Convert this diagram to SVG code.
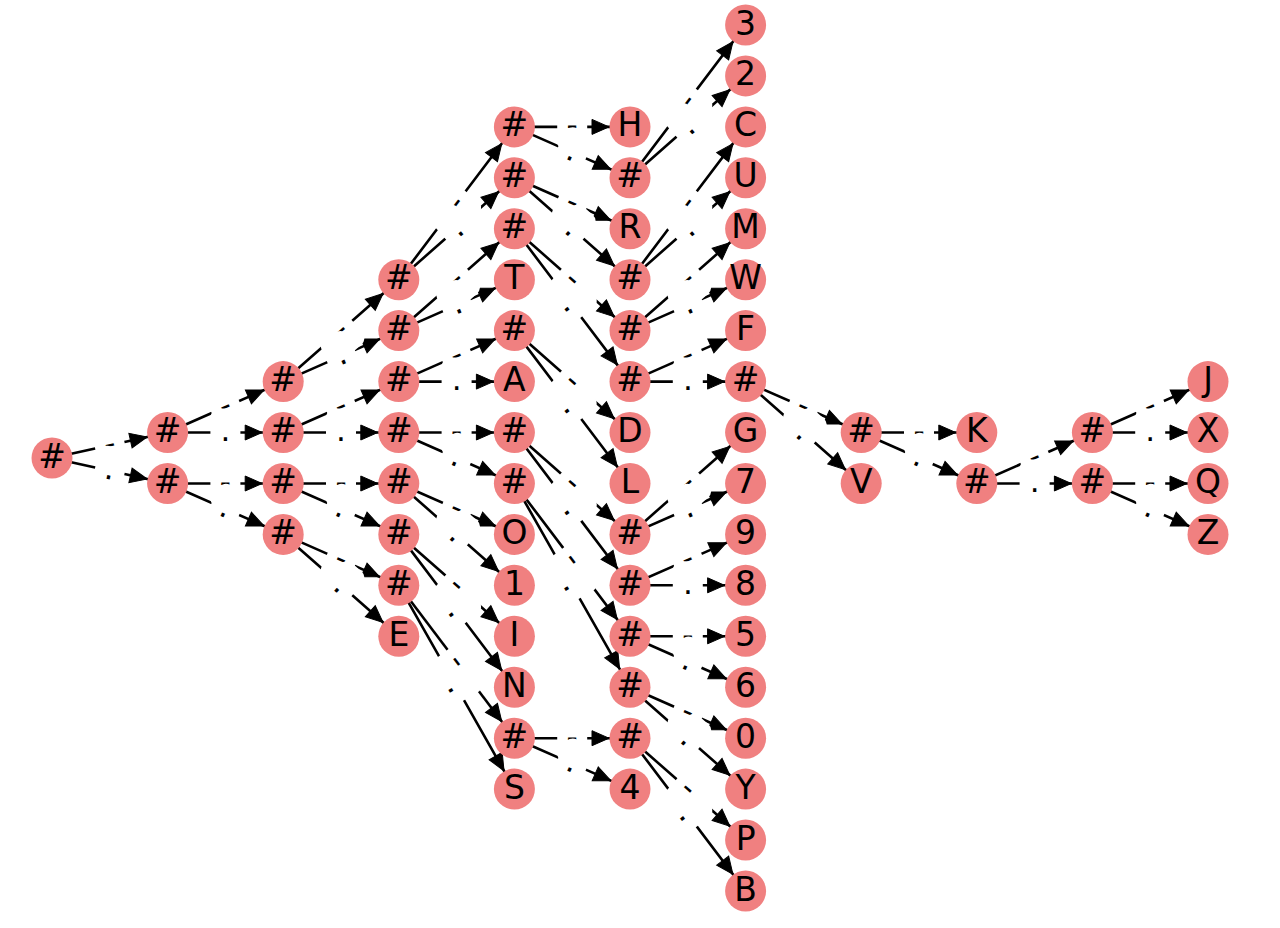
<svg xmlns="http://www.w3.org/2000/svg" width="1280" height="928" viewBox="0 0 1280 928">
<style>
.edge{fill:none;stroke:#000;stroke-width:2.6;marker-end:url(#arrow)}
.lab{fill:none;stroke:none}
.dash{marker-mid:url(#mdash)}
.dot{marker-mid:url(#mdot)}
.node circle{fill:#F08080}
.node text{font-family:"DejaVu Sans",sans-serif;font-size:33px;text-anchor:middle;fill:#000}
.lt{font-family:"DejaVu Sans",sans-serif;font-size:31px;text-anchor:middle;fill:#000}
.lb{fill:#fff}
</style>
<defs>
<marker id="arrow" markerUnits="userSpaceOnUse" orient="auto" refX="0" refY="0" markerWidth="1" markerHeight="1" overflow="visible">
<path d="M-21,0 L-38,-7.5 L-38,7.5 Z" fill="#000" stroke="#000" stroke-width="1"/>
</marker>
<marker id="mdash" markerUnits="userSpaceOnUse" orient="auto" refX="0" refY="0" markerWidth="1" markerHeight="1" overflow="visible">
<rect class="lb" x="-15" y="-24" width="30" height="48" rx="9"/>
<text class="lt" x="0" y="8.5">-</text>
</marker>
<marker id="mdot" markerUnits="userSpaceOnUse" orient="auto" refX="0" refY="0" markerWidth="1" markerHeight="1" overflow="visible">
<rect class="lb" x="-15" y="-24" width="30" height="48" rx="9"/>
<text class="lt" x="0" y="8.5">.</text>
</marker>
</defs>
<rect width="1280" height="928" fill="#fff"/>
<g id="connectors">
<path class="edge" d="M52 458 L109.8 445.25 L167.6 432.5"/>
<path class="edge" d="M52 458 L109.8 470.75 L167.6 483.5"/>
<path class="edge" d="M167.6 432.5 L225.4 407.05 L283.2 381.6"/>
<path class="edge" d="M167.6 432.5 L225.4 432.5 L283.2 432.5"/>
<path class="edge" d="M167.6 483.5 L225.4 483.5 L283.2 483.5"/>
<path class="edge" d="M167.6 483.5 L225.4 508.95 L283.2 534.4"/>
<path class="edge" d="M283.2 381.6 L341 330.65 L398.8 279.7"/>
<path class="edge" d="M283.2 381.6 L341 356.1 L398.8 330.6"/>
<path class="edge" d="M283.2 432.5 L341 407.05 L398.8 381.6"/>
<path class="edge" d="M283.2 432.5 L341 432.5 L398.8 432.5"/>
<path class="edge" d="M283.2 483.5 L341 483.5 L398.8 483.5"/>
<path class="edge" d="M283.2 483.5 L341 508.95 L398.8 534.4"/>
<path class="edge" d="M283.2 534.4 L341 559.85 L398.8 585.3"/>
<path class="edge" d="M283.2 534.4 L341 585.35 L398.8 636.3"/>
<path class="edge" d="M398.8 279.7 L456.6 203.3 L514.4 126.9"/>
<path class="edge" d="M398.8 279.7 L456.6 228.75 L514.4 177.8"/>
<path class="edge" d="M398.8 330.6 L456.6 279.7 L514.4 228.8"/>
<path class="edge" d="M398.8 330.6 L456.6 305.15 L514.4 279.7"/>
<path class="edge" d="M398.8 381.6 L456.6 356.1 L514.4 330.6"/>
<path class="edge" d="M398.8 381.6 L456.6 381.6 L514.4 381.6"/>
<path class="edge" d="M398.8 432.5 L456.6 432.5 L514.4 432.5"/>
<path class="edge" d="M398.8 432.5 L456.6 458 L514.4 483.5"/>
<path class="edge" d="M398.8 483.5 L456.6 508.95 L514.4 534.4"/>
<path class="edge" d="M398.8 483.5 L456.6 534.4 L514.4 585.3"/>
<path class="edge" d="M398.8 534.4 L456.6 585.35 L514.4 636.3"/>
<path class="edge" d="M398.8 534.4 L456.6 610.8 L514.4 687.2"/>
<path class="edge" d="M398.8 585.3 L456.6 661.75 L514.4 738.2"/>
<path class="edge" d="M398.8 585.3 L456.6 687.2 L514.4 789.1"/>
<path class="edge" d="M514.4 126.9 L572.2 126.9 L630 126.9"/>
<path class="edge" d="M514.4 126.9 L572.2 152.35 L630 177.8"/>
<path class="edge" d="M514.4 177.8 L572.2 203.3 L630 228.8"/>
<path class="edge" d="M514.4 177.8 L572.2 228.75 L630 279.7"/>
<path class="edge" d="M514.4 228.8 L572.2 279.7 L630 330.6"/>
<path class="edge" d="M514.4 228.8 L572.2 305.2 L630 381.6"/>
<path class="edge" d="M514.4 330.6 L572.2 381.55 L630 432.5"/>
<path class="edge" d="M514.4 330.6 L572.2 407.05 L630 483.5"/>
<path class="edge" d="M514.4 432.5 L572.2 483.45 L630 534.4"/>
<path class="edge" d="M514.4 432.5 L572.2 508.9 L630 585.3"/>
<path class="edge" d="M514.4 483.5 L572.2 559.9 L630 636.3"/>
<path class="edge" d="M514.4 483.5 L572.2 585.35 L630 687.2"/>
<path class="edge" d="M514.4 738.2 L572.2 738.2 L630 738.2"/>
<path class="edge" d="M514.4 738.2 L572.2 763.65 L630 789.1"/>
<path class="edge" d="M630 177.8 L687.8 101.4 L745.6 25"/>
<path class="edge" d="M630 177.8 L687.8 126.85 L745.6 75.9"/>
<path class="edge" d="M630 279.7 L687.8 203.3 L745.6 126.9"/>
<path class="edge" d="M630 279.7 L687.8 228.75 L745.6 177.8"/>
<path class="edge" d="M630 330.6 L687.8 279.7 L745.6 228.8"/>
<path class="edge" d="M630 330.6 L687.8 305.15 L745.6 279.7"/>
<path class="edge" d="M630 381.6 L687.8 356.1 L745.6 330.6"/>
<path class="edge" d="M630 381.6 L687.8 381.6 L745.6 381.6"/>
<path class="edge" d="M630 534.4 L687.8 483.45 L745.6 432.5"/>
<path class="edge" d="M630 534.4 L687.8 508.95 L745.6 483.5"/>
<path class="edge" d="M630 585.3 L687.8 559.85 L745.6 534.4"/>
<path class="edge" d="M630 585.3 L687.8 585.3 L745.6 585.3"/>
<path class="edge" d="M630 636.3 L687.8 636.3 L745.6 636.3"/>
<path class="edge" d="M630 636.3 L687.8 661.75 L745.6 687.2"/>
<path class="edge" d="M630 687.2 L687.8 712.7 L745.6 738.2"/>
<path class="edge" d="M630 687.2 L687.8 738.15 L745.6 789.1"/>
<path class="edge" d="M630 738.2 L687.8 789.1 L745.6 840"/>
<path class="edge" d="M630 738.2 L687.8 814.6 L745.6 891"/>
<path class="edge" d="M745.6 381.6 L803.4 407.05 L861.2 432.5"/>
<path class="edge" d="M745.6 381.6 L803.4 432.55 L861.2 483.5"/>
<path class="edge" d="M861.2 432.5 L919 432.5 L976.8 432.5"/>
<path class="edge" d="M861.2 432.5 L919 458 L976.8 483.5"/>
<path class="edge" d="M976.8 483.5 L1034.6 458 L1092.4 432.5"/>
<path class="edge" d="M976.8 483.5 L1034.6 483.5 L1092.4 483.5"/>
<path class="edge" d="M1092.4 432.5 L1150.2 407.05 L1208 381.6"/>
<path class="edge" d="M1092.4 432.5 L1150.2 432.5 L1208 432.5"/>
<path class="edge" d="M1092.4 483.5 L1150.2 483.5 L1208 483.5"/>
<path class="edge" d="M1092.4 483.5 L1150.2 508.95 L1208 534.4"/>
</g>
<g id="edge-labels">
<path class="lab dash" d="M52 458 L109.8 445.25 L167.6 432.5"/>
<path class="lab dot" d="M52 458 L109.8 470.75 L167.6 483.5"/>
<path class="lab dash" d="M167.6 432.5 L225.4 407.05 L283.2 381.6"/>
<path class="lab dot" d="M167.6 432.5 L225.4 432.5 L283.2 432.5"/>
<path class="lab dash" d="M167.6 483.5 L225.4 483.5 L283.2 483.5"/>
<path class="lab dot" d="M167.6 483.5 L225.4 508.95 L283.2 534.4"/>
<path class="lab dash" d="M283.2 381.6 L341 330.65 L398.8 279.7"/>
<path class="lab dot" d="M283.2 381.6 L341 356.1 L398.8 330.6"/>
<path class="lab dash" d="M283.2 432.5 L341 407.05 L398.8 381.6"/>
<path class="lab dot" d="M283.2 432.5 L341 432.5 L398.8 432.5"/>
<path class="lab dash" d="M283.2 483.5 L341 483.5 L398.8 483.5"/>
<path class="lab dot" d="M283.2 483.5 L341 508.95 L398.8 534.4"/>
<path class="lab dash" d="M283.2 534.4 L341 559.85 L398.8 585.3"/>
<path class="lab dot" d="M283.2 534.4 L341 585.35 L398.8 636.3"/>
<path class="lab dash" d="M398.8 279.7 L456.6 203.3 L514.4 126.9"/>
<path class="lab dot" d="M398.8 279.7 L456.6 228.75 L514.4 177.8"/>
<path class="lab dash" d="M398.8 330.6 L456.6 279.7 L514.4 228.8"/>
<path class="lab dot" d="M398.8 330.6 L456.6 305.15 L514.4 279.7"/>
<path class="lab dash" d="M398.8 381.6 L456.6 356.1 L514.4 330.6"/>
<path class="lab dot" d="M398.8 381.6 L456.6 381.6 L514.4 381.6"/>
<path class="lab dash" d="M398.8 432.5 L456.6 432.5 L514.4 432.5"/>
<path class="lab dot" d="M398.8 432.5 L456.6 458 L514.4 483.5"/>
<path class="lab dash" d="M398.8 483.5 L456.6 508.95 L514.4 534.4"/>
<path class="lab dot" d="M398.8 483.5 L456.6 534.4 L514.4 585.3"/>
<path class="lab dash" d="M398.8 534.4 L456.6 585.35 L514.4 636.3"/>
<path class="lab dot" d="M398.8 534.4 L456.6 610.8 L514.4 687.2"/>
<path class="lab dash" d="M398.8 585.3 L456.6 661.75 L514.4 738.2"/>
<path class="lab dot" d="M398.8 585.3 L456.6 687.2 L514.4 789.1"/>
<path class="lab dash" d="M514.4 126.9 L572.2 126.9 L630 126.9"/>
<path class="lab dot" d="M514.4 126.9 L572.2 152.35 L630 177.8"/>
<path class="lab dash" d="M514.4 177.8 L572.2 203.3 L630 228.8"/>
<path class="lab dot" d="M514.4 177.8 L572.2 228.75 L630 279.7"/>
<path class="lab dash" d="M514.4 228.8 L572.2 279.7 L630 330.6"/>
<path class="lab dot" d="M514.4 228.8 L572.2 305.2 L630 381.6"/>
<path class="lab dash" d="M514.4 330.6 L572.2 381.55 L630 432.5"/>
<path class="lab dot" d="M514.4 330.6 L572.2 407.05 L630 483.5"/>
<path class="lab dash" d="M514.4 432.5 L572.2 483.45 L630 534.4"/>
<path class="lab dot" d="M514.4 432.5 L572.2 508.9 L630 585.3"/>
<path class="lab dash" d="M514.4 483.5 L572.2 559.9 L630 636.3"/>
<path class="lab dot" d="M514.4 483.5 L572.2 585.35 L630 687.2"/>
<path class="lab dash" d="M514.4 738.2 L572.2 738.2 L630 738.2"/>
<path class="lab dot" d="M514.4 738.2 L572.2 763.65 L630 789.1"/>
<path class="lab dash" d="M630 177.8 L687.8 101.4 L745.6 25"/>
<path class="lab dot" d="M630 177.8 L687.8 126.85 L745.6 75.9"/>
<path class="lab dash" d="M630 279.7 L687.8 203.3 L745.6 126.9"/>
<path class="lab dot" d="M630 279.7 L687.8 228.75 L745.6 177.8"/>
<path class="lab dash" d="M630 330.6 L687.8 279.7 L745.6 228.8"/>
<path class="lab dot" d="M630 330.6 L687.8 305.15 L745.6 279.7"/>
<path class="lab dash" d="M630 381.6 L687.8 356.1 L745.6 330.6"/>
<path class="lab dot" d="M630 381.6 L687.8 381.6 L745.6 381.6"/>
<path class="lab dash" d="M630 534.4 L687.8 483.45 L745.6 432.5"/>
<path class="lab dot" d="M630 534.4 L687.8 508.95 L745.6 483.5"/>
<path class="lab dash" d="M630 585.3 L687.8 559.85 L745.6 534.4"/>
<path class="lab dot" d="M630 585.3 L687.8 585.3 L745.6 585.3"/>
<path class="lab dash" d="M630 636.3 L687.8 636.3 L745.6 636.3"/>
<path class="lab dot" d="M630 636.3 L687.8 661.75 L745.6 687.2"/>
<path class="lab dash" d="M630 687.2 L687.8 712.7 L745.6 738.2"/>
<path class="lab dot" d="M630 687.2 L687.8 738.15 L745.6 789.1"/>
<path class="lab dash" d="M630 738.2 L687.8 789.1 L745.6 840"/>
<path class="lab dot" d="M630 738.2 L687.8 814.6 L745.6 891"/>
<path class="lab dash" d="M745.6 381.6 L803.4 407.05 L861.2 432.5"/>
<path class="lab dot" d="M745.6 381.6 L803.4 432.55 L861.2 483.5"/>
<path class="lab dash" d="M861.2 432.5 L919 432.5 L976.8 432.5"/>
<path class="lab dot" d="M861.2 432.5 L919 458 L976.8 483.5"/>
<path class="lab dash" d="M976.8 483.5 L1034.6 458 L1092.4 432.5"/>
<path class="lab dot" d="M976.8 483.5 L1034.6 483.5 L1092.4 483.5"/>
<path class="lab dash" d="M1092.4 432.5 L1150.2 407.05 L1208 381.6"/>
<path class="lab dot" d="M1092.4 432.5 L1150.2 432.5 L1208 432.5"/>
<path class="lab dash" d="M1092.4 483.5 L1150.2 483.5 L1208 483.5"/>
<path class="lab dot" d="M1092.4 483.5 L1150.2 508.95 L1208 534.4"/>
</g>
<g id="nodes">
<g id="root" class="node" transform="translate(52,458)"><circle r="20.5"/><text y="9.5">#</text></g>
<g id="a1" class="node" transform="translate(167.6,432.5)"><circle r="20.5"/><text y="9.5">#</text></g>
<g id="a2" class="node" transform="translate(167.6,483.5)"><circle r="20.5"/><text y="9.5">#</text></g>
<g id="b1" class="node" transform="translate(283.2,381.6)"><circle r="20.5"/><text y="9.5">#</text></g>
<g id="b2" class="node" transform="translate(283.2,432.5)"><circle r="20.5"/><text y="9.5">#</text></g>
<g id="b3" class="node" transform="translate(283.2,483.5)"><circle r="20.5"/><text y="9.5">#</text></g>
<g id="b4" class="node" transform="translate(283.2,534.4)"><circle r="20.5"/><text y="9.5">#</text></g>
<g id="d1" class="node" transform="translate(398.8,279.7)"><circle r="20.5"/><text y="9.5">#</text></g>
<g id="d2" class="node" transform="translate(398.8,330.6)"><circle r="20.5"/><text y="9.5">#</text></g>
<g id="d3" class="node" transform="translate(398.8,381.6)"><circle r="20.5"/><text y="9.5">#</text></g>
<g id="d4" class="node" transform="translate(398.8,432.5)"><circle r="20.5"/><text y="9.5">#</text></g>
<g id="d5" class="node" transform="translate(398.8,483.5)"><circle r="20.5"/><text y="9.5">#</text></g>
<g id="d6" class="node" transform="translate(398.8,534.4)"><circle r="20.5"/><text y="9.5">#</text></g>
<g id="d7" class="node" transform="translate(398.8,585.3)"><circle r="20.5"/><text y="9.5">#</text></g>
<g id="node-E" class="node" transform="translate(398.8,636.3)"><circle r="20.5"/><text y="9.5">E</text></g>
<g id="e1" class="node" transform="translate(514.4,126.9)"><circle r="20.5"/><text y="9.5">#</text></g>
<g id="e2" class="node" transform="translate(514.4,177.8)"><circle r="20.5"/><text y="9.5">#</text></g>
<g id="e3" class="node" transform="translate(514.4,228.8)"><circle r="20.5"/><text y="9.5">#</text></g>
<g id="node-T" class="node" transform="translate(514.4,279.7)"><circle r="20.5"/><text y="9.5">T</text></g>
<g id="e4" class="node" transform="translate(514.4,330.6)"><circle r="20.5"/><text y="9.5">#</text></g>
<g id="node-A" class="node" transform="translate(514.4,381.6)"><circle r="20.5"/><text y="9.5">A</text></g>
<g id="e5" class="node" transform="translate(514.4,432.5)"><circle r="20.5"/><text y="9.5">#</text></g>
<g id="e6" class="node" transform="translate(514.4,483.5)"><circle r="20.5"/><text y="9.5">#</text></g>
<g id="node-O" class="node" transform="translate(514.4,534.4)"><circle r="20.5"/><text y="9.5">O</text></g>
<g id="node-1" class="node" transform="translate(514.4,585.3)"><circle r="20.5"/><text y="9.5">1</text></g>
<g id="node-I" class="node" transform="translate(514.4,636.3)"><circle r="20.5"/><text y="9.5">I</text></g>
<g id="node-N" class="node" transform="translate(514.4,687.2)"><circle r="20.5"/><text y="9.5">N</text></g>
<g id="e7" class="node" transform="translate(514.4,738.2)"><circle r="20.5"/><text y="9.5">#</text></g>
<g id="node-S" class="node" transform="translate(514.4,789.1)"><circle r="20.5"/><text y="9.5">S</text></g>
<g id="node-H" class="node" transform="translate(630,126.9)"><circle r="20.5"/><text y="9.5">H</text></g>
<g id="f1" class="node" transform="translate(630,177.8)"><circle r="20.5"/><text y="9.5">#</text></g>
<g id="node-R" class="node" transform="translate(630,228.8)"><circle r="20.5"/><text y="9.5">R</text></g>
<g id="f2" class="node" transform="translate(630,279.7)"><circle r="20.5"/><text y="9.5">#</text></g>
<g id="f3" class="node" transform="translate(630,330.6)"><circle r="20.5"/><text y="9.5">#</text></g>
<g id="f4" class="node" transform="translate(630,381.6)"><circle r="20.5"/><text y="9.5">#</text></g>
<g id="node-D" class="node" transform="translate(630,432.5)"><circle r="20.5"/><text y="9.5">D</text></g>
<g id="node-L" class="node" transform="translate(630,483.5)"><circle r="20.5"/><text y="9.5">L</text></g>
<g id="f5" class="node" transform="translate(630,534.4)"><circle r="20.5"/><text y="9.5">#</text></g>
<g id="f6" class="node" transform="translate(630,585.3)"><circle r="20.5"/><text y="9.5">#</text></g>
<g id="f7" class="node" transform="translate(630,636.3)"><circle r="20.5"/><text y="9.5">#</text></g>
<g id="f8" class="node" transform="translate(630,687.2)"><circle r="20.5"/><text y="9.5">#</text></g>
<g id="f9" class="node" transform="translate(630,738.2)"><circle r="20.5"/><text y="9.5">#</text></g>
<g id="node-4" class="node" transform="translate(630,789.1)"><circle r="20.5"/><text y="9.5">4</text></g>
<g id="node-3" class="node" transform="translate(745.6,25)"><circle r="20.5"/><text y="9.5">3</text></g>
<g id="node-2" class="node" transform="translate(745.6,75.9)"><circle r="20.5"/><text y="9.5">2</text></g>
<g id="node-C" class="node" transform="translate(745.6,126.9)"><circle r="20.5"/><text y="9.5">C</text></g>
<g id="node-U" class="node" transform="translate(745.6,177.8)"><circle r="20.5"/><text y="9.5">U</text></g>
<g id="node-M" class="node" transform="translate(745.6,228.8)"><circle r="20.5"/><text y="9.5">M</text></g>
<g id="node-W" class="node" transform="translate(745.6,279.7)"><circle r="20.5"/><text y="9.5">W</text></g>
<g id="node-F" class="node" transform="translate(745.6,330.6)"><circle r="20.5"/><text y="9.5">F</text></g>
<g id="g1" class="node" transform="translate(745.6,381.6)"><circle r="20.5"/><text y="9.5">#</text></g>
<g id="node-G" class="node" transform="translate(745.6,432.5)"><circle r="20.5"/><text y="9.5">G</text></g>
<g id="node-7" class="node" transform="translate(745.6,483.5)"><circle r="20.5"/><text y="9.5">7</text></g>
<g id="node-9" class="node" transform="translate(745.6,534.4)"><circle r="20.5"/><text y="9.5">9</text></g>
<g id="node-8" class="node" transform="translate(745.6,585.3)"><circle r="20.5"/><text y="9.5">8</text></g>
<g id="node-5" class="node" transform="translate(745.6,636.3)"><circle r="20.5"/><text y="9.5">5</text></g>
<g id="node-6" class="node" transform="translate(745.6,687.2)"><circle r="20.5"/><text y="9.5">6</text></g>
<g id="node-0" class="node" transform="translate(745.6,738.2)"><circle r="20.5"/><text y="9.5">0</text></g>
<g id="node-Y" class="node" transform="translate(745.6,789.1)"><circle r="20.5"/><text y="9.5">Y</text></g>
<g id="node-P" class="node" transform="translate(745.6,840)"><circle r="20.5"/><text y="9.5">P</text></g>
<g id="node-B" class="node" transform="translate(745.6,891)"><circle r="20.5"/><text y="9.5">B</text></g>
<g id="h1" class="node" transform="translate(861.2,432.5)"><circle r="20.5"/><text y="9.5">#</text></g>
<g id="node-V" class="node" transform="translate(861.2,483.5)"><circle r="20.5"/><text y="9.5">V</text></g>
<g id="node-K" class="node" transform="translate(976.8,432.5)"><circle r="20.5"/><text y="9.5">K</text></g>
<g id="i1" class="node" transform="translate(976.8,483.5)"><circle r="20.5"/><text y="9.5">#</text></g>
<g id="j1" class="node" transform="translate(1092.4,432.5)"><circle r="20.5"/><text y="9.5">#</text></g>
<g id="j2" class="node" transform="translate(1092.4,483.5)"><circle r="20.5"/><text y="9.5">#</text></g>
<g id="node-J" class="node" transform="translate(1208,381.6)"><circle r="20.5"/><text y="9.5">J</text></g>
<g id="node-X" class="node" transform="translate(1208,432.5)"><circle r="20.5"/><text y="9.5">X</text></g>
<g id="node-Q" class="node" transform="translate(1208,483.5)"><circle r="20.5"/><text y="9.5">Q</text></g>
<g id="node-Z" class="node" transform="translate(1208,534.4)"><circle r="20.5"/><text y="9.5">Z</text></g>
</g>
</svg>
